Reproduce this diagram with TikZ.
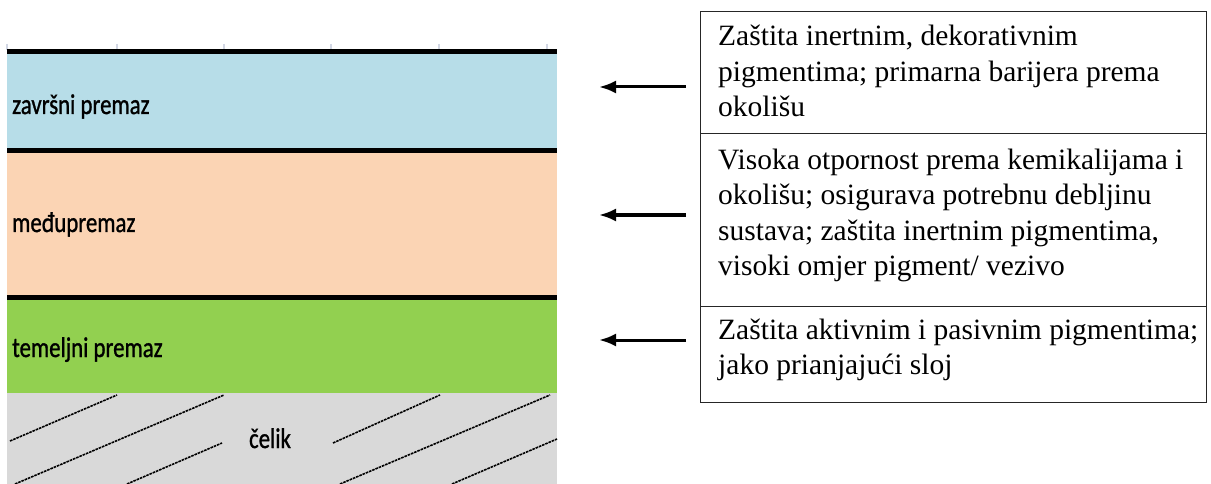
\documentclass[tikz,border=0pt]{standalone}
\usepackage{fontspec}
\setmainfont{Liberation Serif}
\newfontfamily\descfont{Liberation Serif}
\newfontfamily\lblfont[FakeBold=1.2]{Carlito}
\usetikzlibrary{arrows.meta}
\definecolor{cblue}{RGB}{183,221,232}
\definecolor{cpeach}{RGB}{251,212,180}
\definecolor{cgreen}{RGB}{146,208,80}
\definecolor{cgray}{RGB}{217,217,217}
\definecolor{ctick}{RGB}{210,215,228}
\tikzset{
  sep/.style={line width=5pt, black},
  lbl/.style={anchor=base west, inner sep=0pt, yscale=1.25, font=\lblfont\fontsize{22.8}{26}\selectfont},
  hatch/.style={line width=1.6pt, dash pattern=on 2.6pt off 0.9pt, black},
  tick/.style={line width=1.6pt, ctick},
  cell/.style={draw=black!85, line width=1.4pt, rectangle, anchor=north west, inner sep=0pt, minimum width=506pt},
  desc/.style={anchor=north west, inner sep=0pt, align=left, font=\descfont\fontsize{29.5}{35.5}\selectfont},
  arr/.style={line width=3pt, -{Latex[length=17pt,width=13pt]}}
}
\begin{document}
\begin{tikzpicture}[x=1pt,y=-1pt]
\useasboundingbox (0,0) rectangle (1211,484);
% layers
\fill[cblue] (7,52) rectangle (557,150);
\fill[cpeach] (7,150) rectangle (557,297);
\fill[cgreen] (7,297) rectangle (557,393);
\fill[cgray] (7,393) rectangle (557,484);
% ticks
\foreach \tx in {7,117,224,331,439,547} \draw[tick] (\tx,44) -- (\tx,50);
% separators
\draw[sep] (7,51.5) -- (557,51.5);
\draw[sep] (7,150.5) -- (557,150.5);
\draw[sep] (7,297.5) -- (557,297.5);
% hatch
\draw[hatch] (10,441) -- (117,395);
\draw[hatch] (15,484) -- (224,395);
\draw[hatch] (127,484) -- (222,443);
\draw[hatch] (333,443) -- (440,395);
\draw[hatch] (340,484) -- (550,395);
\draw[hatch] (452,484) -- (557,439);
% labels
\node[lbl] (l1) at (12,114) {završni premaz};
\node[lbl] (l2) at (12,232) {međupremaz};
\node[lbl] (l3) at (12,357) {temeljni premaz};
\node[lbl, anchor=base] (l4) at (270,448) {čelik};
% description table
\node[cell, minimum height=122pt] (c1) at (700,11) {};
\node[cell, minimum height=173pt] (c2) at (700,133) {};
\node[cell, minimum height=96pt] (c3) at (700,306) {};
\node[desc] (t1) at (718,20.5) {\strut Zaštita inertnim, dekorativnim\\pigmentima; primarna barijera prema\\okolišu};
\node[desc] (t2) at (718,144) {\strut Visoka otpornost prema kemikalijama i\\okolišu; osigurava potrebnu debljinu\\sustava; zaštita inertnim pigmentima,\\visoki omjer pigment/ vezivo};
\node[desc] (t3) at (718,314) {\strut Zaštita aktivnim i pasivnim pigmentima;\\jako prianjajući sloj};
% arrows
\coordinate (a1s) at (686,87);  \coordinate (a1e) at (599,87);
\coordinate (a2s) at (686,215); \coordinate (a2e) at (599,215);
\coordinate (a3s) at (686,340); \coordinate (a3e) at (599,340);
\draw[arr] (a1s) -- (a1e);
\draw[arr] (a2s) -- (a2e);
\draw[arr] (a3s) -- (a3e);
\end{tikzpicture}
\end{document}
